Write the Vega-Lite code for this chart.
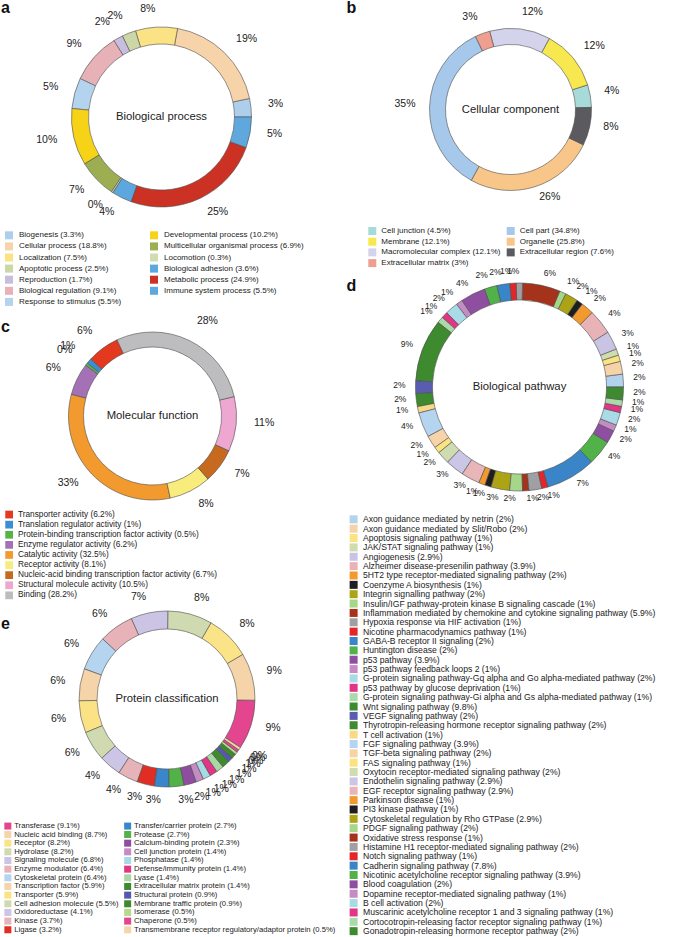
{
"$schema": "https://vega.github.io/schema/vega-lite/v6.json",
"padding": 0,
"background": "white",
"config": {"view": {"stroke": null}, "font": "Liberation Sans"},
"datasets": {
"bp": [
{"o":1,"name":"Biogenesis (3.3%)","v":3.3,"lbl":"3%"},
{"o":2,"name":"Cellular process (18.8%)","v":18.8,"lbl":"19%"},
{"o":3,"name":"Localization (7.5%)","v":7.5,"lbl":"8%"},
{"o":4,"name":"Apoptotic process (2.5%)","v":2.5,"lbl":"2%"},
{"o":5,"name":"Reproduction (1.7%)","v":1.7,"lbl":"2%"},
{"o":6,"name":"Biological regulation (9.1%)","v":9.1,"lbl":"9%"},
{"o":7,"name":"Response to stimulus (5.5%)","v":5.5,"lbl":"5%"},
{"o":8,"name":"Developmental process (10.2%)","v":10.2,"lbl":"10%"},
{"o":9,"name":"Multicellular organismal process (6.9%)","v":6.9,"lbl":"7%"},
{"o":10,"name":"Locomotion (0.3%)","v":0.3,"lbl":"0%"},
{"o":11,"name":"Biological adhesion (3.6%)","v":3.6,"lbl":"4%"},
{"o":12,"name":"Metabolic process (24.9%)","v":24.9,"lbl":"25%"},
{"o":13,"name":"Immune system process (5.5%)","v":5.5,"lbl":"5%"}
],
"cc": [
{"o":1,"name":"Cell junction (4.5%)","v":4.5,"lbl":"4%"},
{"o":2,"name":"Membrane (12.1%)","v":12.1,"lbl":"12%"},
{"o":3,"name":"Macromolecular complex (12.1%)","v":12.1,"lbl":"12%"},
{"o":4,"name":"Extracellular matrix (3%)","v":3,"lbl":"3%"},
{"o":5,"name":"Cell part (34.8%)","v":34.8,"lbl":"35%"},
{"o":6,"name":"Organelle (25.8%)","v":25.8,"lbl":"26%"},
{"o":7,"name":"Extracellular region (7.6%)","v":7.6,"lbl":"8%"}
],
"mf": [
{"o":1,"name":"Transporter activity (6.2%)","v":6.2,"lbl":"6%"},
{"o":2,"name":"Translation regulator activity (1%)","v":1,"lbl":"1%"},
{"o":3,"name":"Protein-binding transcription factor activity (0.5%)","v":0.5,"lbl":"0%"},
{"o":4,"name":"Enzyme regulator activity (6.2%)","v":6.2,"lbl":"6%"},
{"o":5,"name":"Catalytic activity (32.5%)","v":32.5,"lbl":"33%"},
{"o":6,"name":"Receptor activity (8.1%)","v":8.1,"lbl":"8%"},
{"o":7,"name":"Nucleic-acid binding transcription factor activity (6.7%)","v":6.7,"lbl":"7%"},
{"o":8,"name":"Structural molecule activity (10.5%)","v":10.5,"lbl":"11%"},
{"o":9,"name":"Binding (28.2%)","v":28.2,"lbl":"28%"}
],
"pw": [
{"o":1,"name":"Axon guidance mediated by netrin (2%)","v":2,"lbl":"2%"},
{"o":2,"name":"Axon guidance mediated by Slit/Robo (2%)","v":2,"lbl":"2%"},
{"o":3,"name":"Apoptosis signaling pathway (1%)","v":1,"lbl":"1%"},
{"o":4,"name":"JAK/STAT signaling pathway (1%)","v":1,"lbl":"1%"},
{"o":5,"name":"Angiogenesis (2.9%)","v":2.9,"lbl":"3%"},
{"o":6,"name":"Alzheimer disease-presenilin pathway (3.9%)","v":3.9,"lbl":"4%"},
{"o":7,"name":"5HT2 type receptor-mediated signaling pathway (2%)","v":2,"lbl":"2%"},
{"o":8,"name":"Coenzyme A biosynthesis (1%)","v":1,"lbl":"1%"},
{"o":9,"name":"Integrin signalling pathway (2%)","v":2,"lbl":"2%"},
{"o":10,"name":"Insulin/IGF pathway-protein kinase B signaling cascade (1%)","v":1,"lbl":"1%"},
{"o":11,"name":"Inflammation mediated by chemokine and cytokine signaling pathway (5.9%)","v":5.9,"lbl":"6%"},
{"o":12,"name":"Hypoxia response via HIF activation (1%)","v":1,"lbl":"1%"},
{"o":13,"name":"Nicotine pharmacodynamics pathway (1%)","v":1,"lbl":"1%"},
{"o":14,"name":"GABA-B receptor II signaling (2%)","v":2,"lbl":"2%"},
{"o":15,"name":"Huntington disease (2%)","v":2,"lbl":"2%"},
{"o":16,"name":"p53 pathway (3.9%)","v":3.9,"lbl":"4%"},
{"o":17,"name":"p53 pathway feedback loops 2 (1%)","v":1,"lbl":"1%"},
{"o":18,"name":"G-protein signaling pathway-Gq alpha and Go alpha-mediated pathway (2%)","v":2,"lbl":"2%"},
{"o":19,"name":"p53 pathway by glucose deprivation (1%)","v":1,"lbl":"1%"},
{"o":20,"name":"G-protein signaling pathway-Gi alpha and Gs alpha-mediated pathway (1%)","v":1,"lbl":"1%"},
{"o":21,"name":"Wnt signaling pathway (9.8%)","v":9.8,"lbl":"9%"},
{"o":22,"name":"VEGF signaling pathway (2%)","v":2,"lbl":"2%"},
{"o":23,"name":"Thyrotropin-releasing hormone receptor signaling pathway (2%)","v":2,"lbl":"2%"},
{"o":24,"name":"T cell activation (1%)","v":1,"lbl":"1%"},
{"o":25,"name":"FGF signaling pathway (3.9%)","v":3.9,"lbl":"4%"},
{"o":26,"name":"TGF-beta signaling pathway (2%)","v":2,"lbl":"2%"},
{"o":27,"name":"FAS signaling pathway (1%)","v":1,"lbl":"1%"},
{"o":28,"name":"Oxytocin receptor-mediated signaling pathway (2%)","v":2,"lbl":"2%"},
{"o":29,"name":"Endothelin signaling pathway (2.9%)","v":2.9,"lbl":"3%"},
{"o":30,"name":"EGF receptor signaling pathway (2.9%)","v":2.9,"lbl":"3%"},
{"o":31,"name":"Parkinson disease (1%)","v":1,"lbl":"1%"},
{"o":32,"name":"PI3 kinase pathway (1%)","v":1,"lbl":"1%"},
{"o":33,"name":"Cytoskeletal regulation by Rho GTPase (2.9%)","v":2.9,"lbl":"3%"},
{"o":34,"name":"PDGF signaling pathway (2%)","v":2,"lbl":"2%"},
{"o":35,"name":"Oxidative stress response (1%)","v":1,"lbl":"1%"},
{"o":36,"name":"Histamine H1 receptor-mediated signaling pathway (2%)","v":2,"lbl":"2%"},
{"o":37,"name":"Notch signaling pathway (1%)","v":1,"lbl":"1%"},
{"o":38,"name":"Cadherin signaling pathway (7.8%)","v":7.8,"lbl":"7%"},
{"o":39,"name":"Nicotinic acetylcholine receptor signaling pathway (3.9%)","v":3.9,"lbl":"4%"},
{"o":40,"name":"Blood coagulation (2%)","v":2,"lbl":"2%"},
{"o":41,"name":"Dopamine receptor-mediated signaling pathway (1%)","v":1,"lbl":"1%"},
{"o":42,"name":"B cell activation (2%)","v":2,"lbl":"2%"},
{"o":43,"name":"Muscarinic acetylcholine receptor 1 and 3 signaling pathway (1%)","v":1,"lbl":"1%"},
{"o":44,"name":"Cortocotropin-releasing factor receptor signaling pathway (1%)","v":1,"lbl":"1%"},
{"o":45,"name":"Gonadotropin-releasing hormone receptor pathway (2%)","v":2,"lbl":"2%"}
],
"pc": [
{"o":1,"name":"Transferase (9.1%)","v":9.1,"lbl":"9%"},
{"o":2,"name":"Nucleic acid binding (8.7%)","v":8.7,"lbl":"9%"},
{"o":3,"name":"Receptor (8.2%)","v":8.2,"lbl":"8%"},
{"o":4,"name":"Hydrolase (8.2%)","v":8.2,"lbl":"8%"},
{"o":5,"name":"Signaling molecule (6.8%)","v":6.8,"lbl":"7%"},
{"o":6,"name":"Enzyme modulator (6.4%)","v":6.4,"lbl":"6%"},
{"o":7,"name":"Cytoskeletal protein (6.4%)","v":6.4,"lbl":"6%"},
{"o":8,"name":"Transcription factor (5.9%)","v":5.9,"lbl":"6%"},
{"o":9,"name":"Transporter (5.9%)","v":5.9,"lbl":"6%"},
{"o":10,"name":"Cell adhesion molecule (5.5%)","v":5.5,"lbl":"6%"},
{"o":11,"name":"Oxidoreductase (4.1%)","v":4.1,"lbl":"4%"},
{"o":12,"name":"Kinase (3.7%)","v":3.7,"lbl":"4%"},
{"o":13,"name":"Ligase (3.2%)","v":3.2,"lbl":"3%"},
{"o":14,"name":"Transfer/carrier protein (2.7%)","v":2.7,"lbl":"3%"},
{"o":15,"name":"Protease (2.7%)","v":2.7,"lbl":"3%"},
{"o":16,"name":"Calcium-binding protein (2.3%)","v":2.3,"lbl":"2%"},
{"o":17,"name":"Cell junction protein (1.4%)","v":1.4,"lbl":"1%"},
{"o":18,"name":"Phosphatase (1.4%)","v":1.4,"lbl":"1%"},
{"o":19,"name":"Defense/immunity protein (1.4%)","v":1.4,"lbl":"1%"},
{"o":20,"name":"Lyase (1.4%)","v":1.4,"lbl":"1%"},
{"o":21,"name":"Extracellular matrix protein (1.4%)","v":1.4,"lbl":"1%"},
{"o":22,"name":"Structural protein (0.9%)","v":0.9,"lbl":"1%"},
{"o":23,"name":"Membrane traffic protein (0.9%)","v":0.9,"lbl":"1%"},
{"o":24,"name":"Isomerase (0.5%)","v":0.5,"lbl":"0%"},
{"o":25,"name":"Chaperone (0.5%)","v":0.5,"lbl":"0%"},
{"o":26,"name":"Transmembrane receptor regulatory/adaptor protein (0.5%)","v":0.5,"lbl":"0%"}
]
},
"bounds": "flush",
"columns": 2,
"spacing": {"row": 0, "column": 20},
"resolve": {"scale": {"color": "independent", "theta": "independent"}, "legend": {"color": "independent"}},
"concat": [
{
"width": 323, "height": 230,
"title": {"text": "a", "anchor": "start", "frame": "group", "fontSize": 16, "fontWeight": "bold", "offset": 0, "baseline": "bottom", "dx": 1, "dy": 30.2, "color": "#111"},
"data": {"name": "bp"},
"layer": [
{"mark": {"type": "arc", "innerRadius": 73, "outerRadius": 90, "stroke": "#4d4d4d", "strokeWidth": 0.6},
"encoding": {
"theta": {"field": "v", "type": "quantitative", "stack": true, "scale": {"range": [1.5708, -4.7124]}},
"order": {"field": "o", "type": "quantitative"},
"color": {"field": "name", "type": "nominal",
"scale": {"domain": ["Biogenesis (3.3%)","Cellular process (18.8%)","Localization (7.5%)","Apoptotic process (2.5%)","Reproduction (1.7%)","Biological regulation (9.1%)","Response to stimulus (5.5%)","Developmental process (10.2%)","Multicellular organismal process (6.9%)","Locomotion (0.3%)","Biological adhesion (3.6%)","Metabolic process (24.9%)","Immune system process (5.5%)"],
"range": ["#aecfec","#f7d3aa","#fbe285","#cbd7a7","#c8bddf","#e6b2b7","#b3d3ef","#f6d317","#9cad52","#cfdbb1","#5ca7de","#cc3224","#5fa8de"]},
"legend": {"orient": "none", "legendX": 5, "legendY": 229.3, "title": null, "columns": 2, "columnPadding": 28, "rowPadding": 3.1, "symbolType": "square", "symbolSize": 64, "symbolStrokeWidth": 0, "labelFontSize": 8, "labelOffset": 6, "labelLimit": 400, "labelColor": "#222", "padding": 0, "symbolLimit": 60}}
}},
{"mark": {"type": "text", "radius": 107, "dy": -1.5, "fontSize": 10.5, "baseline": "middle", "color": "#222", "align": {"expr": "(datum.v_start+datum.v_end)/2 < 24.95 || (datum.v_start+datum.v_end)/2 > 74.85 ? 'left' : 'right'"}},
"encoding": {
"theta": {"field": "v", "type": "quantitative", "stack": true, "scale": {"range": [1.5708, -4.7124]}},
"order": {"field": "o", "type": "quantitative"},
"text": {"field": "lbl", "type": "nominal"}}},
{"data": {"values": [{"t": "Biological process"}]}, "mark": {"type": "text", "fontSize": 11.3, "color": "#222"}, "encoding": {"text": {"field": "t", "type": "nominal"}}}
]
},
{
"width": 313, "height": 215,
"title": {"text": "b", "anchor": "start", "frame": "group", "fontSize": 16, "fontWeight": "bold", "offset": 0, "baseline": "bottom", "dx": -7.5, "dy": 30.2, "color": "#111"},
"data": {"name": "cc"},
"layer": [
{"mark": {"type": "arc", "innerRadius": 65, "outerRadius": 81, "stroke": "#4d4d4d", "strokeWidth": 0.6},
"encoding": {
"theta": {"field": "v", "type": "quantitative", "stack": true, "scale": {"range": [1.5446, -4.7386]}},
"order": {"field": "o", "type": "quantitative"},
"color": {"field": "name", "type": "nominal",
"scale": {"domain": ["Cell junction (4.5%)","Membrane (12.1%)","Macromolecular complex (12.1%)","Extracellular matrix (3%)","Cell part (34.8%)","Organelle (25.8%)","Extracellular region (7.6%)"],
"range": ["#a6dbd9","#f6e84e","#d4d3ec","#ef9f8f","#a6c8ea","#f8c688","#5b5a5f"]},
"legend": {"orient": "none", "legendX": 14.3, "legendY": 225, "title": null, "columns": 2, "columnPadding": 5.4, "rowPadding": 2.7, "symbolType": "square", "symbolSize": 64, "symbolStrokeWidth": 0, "labelFontSize": 8, "labelOffset": 5, "labelLimit": 400, "labelColor": "#222", "padding": 0, "symbolLimit": 60}}
}},
{"mark": {"type": "text", "radius": 95, "dy": -3, "fontSize": 10.5, "baseline": "middle", "color": "#222", "align": {"expr": "(datum.v_start+datum.v_end)/2 < 24.975 || (datum.v_start+datum.v_end)/2 > 74.925 ? 'left' : 'right'"}},
"encoding": {
"theta": {"field": "v", "type": "quantitative", "stack": true, "scale": {"range": [1.5446, -4.7386]}},
"order": {"field": "o", "type": "quantitative"},
"text": {"field": "lbl", "type": "nominal"}}},
{"data": {"values": [{"t": "Cellular component"}]}, "mark": {"type": "text", "fontSize": 11.3, "color": "#222"}, "encoding": {"text": {"field": "t", "type": "nominal"}}}
]
},
{
"width": 305, "height": 368,
"title": {"text": "c", "anchor": "start", "frame": "group", "fontSize": 16, "fontWeight": "bold", "offset": 0, "baseline": "bottom", "dx": 1, "dy": 118.5, "color": "#111"},
"data": {"name": "mf"},
"layer": [
{"mark": {"type": "arc", "innerRadius": 69, "outerRadius": 84, "stroke": "#4d4d4d", "strokeWidth": 0.6},
"encoding": {
"theta": {"field": "v", "type": "quantitative", "stack": true, "scale": {"range": [-0.4363, -6.7195]}},
"order": {"field": "o", "type": "quantitative"},
"color": {"field": "name", "type": "nominal",
"scale": {"domain": ["Transporter activity (6.2%)","Translation regulator activity (1%)","Protein-binding transcription factor activity (0.5%)","Enzyme regulator activity (6.2%)","Catalytic activity (32.5%)","Receptor activity (8.1%)","Nucleic-acid binding transcription factor activity (6.7%)","Structural molecule activity (10.5%)","Binding (28.2%)"],
"range": ["#e2391f","#3b8ed4","#56b447","#a470b6","#f39a2e","#f8ec7c","#c66a20","#eea7d0","#bdbdc0"]},
"legend": {"orient": "none", "legendX": 5, "legendY": 278.4, "title": null, "columns": 1, "rowPadding": 0.1, "symbolType": "square", "symbolSize": 60, "symbolStrokeWidth": 0, "labelFontSize": 8.3, "labelOffset": 4.6, "labelLimit": 400, "labelColor": "#222", "padding": 0, "symbolLimit": 60}}
}},
{"mark": {"type": "text", "radius": 102, "dy": -3, "fontSize": 10.5, "baseline": "middle", "color": "#222", "align": {"expr": "(datum.v_start+datum.v_end)/2 >= 43.02 && (datum.v_start+datum.v_end)/2 <= 92.97 ? 'left' : 'right'"}},
"encoding": {
"theta": {"field": "v", "type": "quantitative", "stack": true, "scale": {"range": [-0.4363, -6.7195]}},
"order": {"field": "o", "type": "quantitative"},
"text": {"field": "lbl", "type": "nominal"}}},
{"data": {"values": [{"t": "Molecular function"}]}, "mark": {"type": "text", "fontSize": 11.3, "color": "#222"}, "encoding": {"text": {"field": "t", "type": "nominal"}}}
]
},
{
"width": 331, "height": 310,
"title": {"text": "d", "anchor": "start", "frame": "group", "fontSize": 16, "fontWeight": "bold", "offset": 0, "baseline": "bottom", "dx": -7.5, "dy": 78.2, "color": "#111"},
"data": {"name": "pw"},
"layer": [
{"mark": {"type": "arc", "innerRadius": 87, "outerRadius": 104, "stroke": "#4d4d4d", "strokeWidth": 0.6},
"encoding": {
"theta": {"field": "v", "type": "quantitative", "stack": true, "scale": {"range": [1.5708, -4.7124]}},
"order": {"field": "o", "type": "quantitative"},
"color": {"field": "name", "type": "nominal",
"scale": {"domain": ["Axon guidance mediated by netrin (2%)","Axon guidance mediated by Slit/Robo (2%)","Apoptosis signaling pathway (1%)","JAK/STAT signaling pathway (1%)","Angiogenesis (2.9%)","Alzheimer disease-presenilin pathway (3.9%)","5HT2 type receptor-mediated signaling pathway (2%)","Coenzyme A biosynthesis (1%)","Integrin signalling pathway (2%)","Insulin/IGF pathway-protein kinase B signaling cascade (1%)","Inflammation mediated by chemokine and cytokine signaling pathway (5.9%)","Hypoxia response via HIF activation (1%)","Nicotine pharmacodynamics pathway (1%)","GABA-B receptor II signaling (2%)","Huntington disease (2%)","p53 pathway (3.9%)","p53 pathway feedback loops 2 (1%)","G-protein signaling pathway-Gq alpha and Go alpha-mediated pathway (2%)","p53 pathway by glucose deprivation (1%)","G-protein signaling pathway-Gi alpha and Gs alpha-mediated pathway (1%)","Wnt signaling pathway (9.8%)","VEGF signaling pathway (2%)","Thyrotropin-releasing hormone receptor signaling pathway (2%)","T cell activation (1%)","FGF signaling pathway (3.9%)","TGF-beta signaling pathway (2%)","FAS signaling pathway (1%)","Oxytocin receptor-mediated signaling pathway (2%)","Endothelin signaling pathway (2.9%)","EGF receptor signaling pathway (2.9%)","Parkinson disease (1%)","PI3 kinase pathway (1%)","Cytoskeletal regulation by Rho GTPase (2.9%)","PDGF signaling pathway (2%)","Oxidative stress response (1%)","Histamine H1 receptor-mediated signaling pathway (2%)","Notch signaling pathway (1%)","Cadherin signaling pathway (7.8%)","Nicotinic acetylcholine receptor signaling pathway (3.9%)","Blood coagulation (2%)","Dopamine receptor-mediated signaling pathway (1%)","B cell activation (2%)","Muscarinic acetylcholine receptor 1 and 3 signaling pathway (1%)","Cortocotropin-releasing factor receptor signaling pathway (1%)","Gonadotropin-releasing hormone receptor pathway (2%)"],
"range": ["#b3d2ee","#f6d2a8","#fbe383","#cfdcae","#cac4e4","#e8b3b7","#f29a2e","#1e1e1e","#aca414","#a5d68a","#a5321a","#a0a0a4","#e2272b","#3985c7","#52b148","#8e4fa1","#c58cc4","#a8dbe6","#e33586","#acd9a9","#3e8a2f","#5a5cb0","#3e8a2f","#f8da86","#b5d4f0","#f6d3a9","#fbe47f","#cfdcb0","#cbc6e6","#e8b5b9","#f29a2e","#1e1e1e","#aca414","#a5d68a","#a5321a","#a0a0a4","#e2272b","#3985c7","#52b148","#8e4fa1","#c58cc4","#a8dbe6","#e33586","#acd9a9","#3e8a2f"]},
"legend": {"orient": "none", "legendX": -4.7, "legendY": 283, "title": null, "columns": 1, "rowPadding": 0.36, "symbolType": "square", "symbolSize": 64, "symbolStrokeWidth": 0, "labelFontSize": 8.65, "labelOffset": 5, "labelLimit": 400, "labelColor": "#222", "padding": 0, "symbolLimit": 60}}
}},
{"mark": {"type": "text", "radius": 114, "dy": -2.5, "fontSize": 8.5, "baseline": "middle", "color": "#222", "align": {"expr": "(datum.v_start+datum.v_end)/2 < 25.175 || (datum.v_start+datum.v_end)/2 > 75.525 ? 'left' : 'right'"}},
"encoding": {
"theta": {"field": "v", "type": "quantitative", "stack": true, "scale": {"range": [1.5708, -4.7124]}},
"order": {"field": "o", "type": "quantitative"},
"text": {"field": "lbl", "type": "nominal"}}},
{"data": {"values": [{"t": "Biological pathway"}]}, "mark": {"type": "text", "fontSize": 11.3, "color": "#222"}, "encoding": {"text": {"field": "t", "type": "nominal"}}}
]
},
{
"width": 334, "height": 198,
"title": {"text": "e", "anchor": "start", "frame": "group", "fontSize": 16, "fontWeight": "bold", "offset": 0, "baseline": "bottom", "dx": 1, "dy": 55.9, "color": "#111"},
"data": {"name": "pc"},
"layer": [
{"mark": {"type": "arc", "innerRadius": 70, "outerRadius": 88, "stroke": "#4d4d4d", "strokeWidth": 0.6},
"encoding": {
"theta": {"field": "v", "type": "quantitative", "stack": true, "scale": {"range": [2.1555, -4.1277]}},
"order": {"field": "o", "type": "quantitative"},
"color": {"field": "name", "type": "nominal",
"scale": {"domain": ["Transferase (9.1%)","Nucleic acid binding (8.7%)","Receptor (8.2%)","Hydrolase (8.2%)","Signaling molecule (6.8%)","Enzyme modulator (6.4%)","Cytoskeletal protein (6.4%)","Transcription factor (5.9%)","Transporter (5.9%)","Cell adhesion molecule (5.5%)","Oxidoreductase (4.1%)","Kinase (3.7%)","Ligase (3.2%)","Transfer/carrier protein (2.7%)","Protease (2.7%)","Calcium-binding protein (2.3%)","Cell junction protein (1.4%)","Phosphatase (1.4%)","Defense/immunity protein (1.4%)","Lyase (1.4%)","Extracellular matrix protein (1.4%)","Structural protein (0.9%)","Membrane traffic protein (0.9%)","Isomerase (0.5%)","Chaperone (0.5%)","Transmembrane receptor regulatory/adaptor protein (0.5%)"],
"range": ["#e4458f","#f5d4a9","#fbe387","#d0dab0","#cbc4e4","#e7b3b8","#b5d4ef","#f6d4aa","#fbe385","#d0dab0","#ccc5e5","#e6b3b8","#e02e25","#3a86cb","#53b247","#8e4d9f","#c58bc4","#a8dae5","#e33586","#a9d8a5","#3f8a2e","#5558ae","#3f8a2e","#b8d98b","#e4458f","#f5d4a9"]},
"legend": {"orient": "none", "legendX": 4, "legendY": 222, "title": null, "columns": 2, "columnPadding": 4.8, "rowPadding": -0.34, "symbolType": "square", "symbolSize": 49, "symbolStrokeWidth": 0, "labelFontSize": 7.7, "labelOffset": 2.5, "labelLimit": 400, "labelColor": "#222", "padding": 0, "symbolLimit": 60}}
}},
{"mark": {"type": "text", "radius": 103, "dy": -1.5, "fontSize": 10.5, "baseline": "middle", "color": "#222", "align": {"expr": "(datum.v_start+datum.v_end)/2 <= 34.34 || (datum.v_start+datum.v_end)/2 >= 84.39 ? 'left' : 'right'"}},
"encoding": {
"theta": {"field": "v", "type": "quantitative", "stack": true, "scale": {"range": [2.1555, -4.1277]}},
"order": {"field": "o", "type": "quantitative"},
"text": {"field": "lbl", "type": "nominal"}}},
{"data": {"values": [{"t": "Protein classification"}]}, "mark": {"type": "text", "fontSize": 11.3, "color": "#222"}, "encoding": {"text": {"field": "t", "type": "nominal"}}}
]
}
]
}
